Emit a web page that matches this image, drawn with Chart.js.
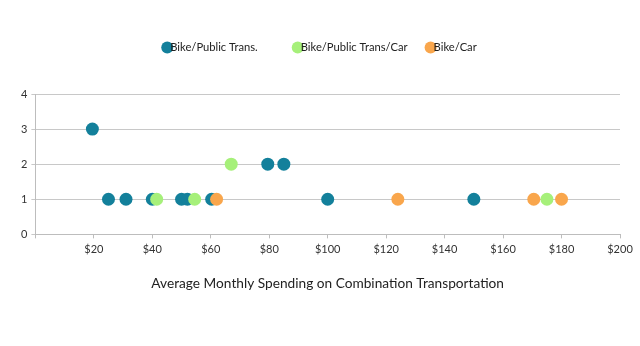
<!DOCTYPE html>
<html>
<head>
<meta charset="utf-8">
<script src="https://cdn.jsdelivr.net/npm/chart.js@4"></script>
<style>
  body { margin: 0; background: #fff; }
  #wrap { width: 640px; height: 346px; }
</style>
</head>
<body>
<div id="wrap"><canvas id="myChart"></canvas></div>
<script>
const seriesNames = ["Bike/Public Trans.", "Bike/Public Trans/Car", "Bike/Car"];
const seriesColors = ["#13809b", "#a6f07a", "#f9a64c"];

// spending ($), count
const bikePublicX = [19.5, 25, 31, 40, 50, 52, 60.3, 79.5, 85, 100, 150];
const bikePublicY = [3, 1, 1, 1, 1, 1, 1, 2, 2, 1, 1];
const bikePublicCarX = [41.5, 54.5, 67, 175];
const bikePublicCarY = [1, 1, 2, 1];
const bikeCarX = [62, 124, 170.5, 180];
const bikeCarY = [1, 1, 1, 1];

const xTicks = [0, 20, 40, 60, 80, 100, 120, 140, 160, 180, 200];
const yTicks = [0, 1, 2, 3, 4];
const xTitle = "Average Monthly Spending on Combination Transportation";

function toPoints(xs, ys) {
  let pts = [];
  for (let i = 0; i < xs.length; i++) {
    pts.push({ x: xs[i], y: ys[i] });
  }
  return pts;
}

function makeDataset(i, xs, ys, order) {
  return {
    label: seriesNames[i],
    data: toPoints(xs, ys),
    backgroundColor: seriesColors[i],
    borderColor: seriesColors[i],
    borderWidth: 0,
    pointBorderWidth: 0,
    pointRadius: 6.5,
    pointHoverRadius: 6.5,
    order: order,
  };
}

// legend drawn by hand: dot sits under the start of the label
const topLegend = {
  id: "topLegend",
  afterDraw(chart) {
    const c = chart.ctx;
    const gaps = [40, 23, 0];
    const y = 47.5;
    c.save();
    c.font = "11.2px Lato";
    c.textBaseline = "middle";
    let widths = chart.data.datasets.map((ds) => c.measureText(ds.label).width);
    let total = 0;
    for (let i = 0; i < widths.length; i++) total += 3 + widths[i] + gaps[i];
    let x = 322 - total / 2;
    chart.data.datasets.forEach((ds, i) => {
      c.fillStyle = ds.backgroundColor;
      c.beginPath();
      c.arc(x, y, 6, 0, Math.PI * 2);
      c.fill();
      c.fillStyle = "#222";
      c.fillText(ds.label, x + 3, y);
      x += 3 + widths[i] + gaps[i];
    });
    c.restore();
  },
};

Chart.defaults.font.family = "Lato";
Chart.defaults.color = "#333";

const ctx = document.getElementById("myChart");

new Chart(ctx, {
  type: "scatter",
  data: {
    datasets: [
      makeDataset(0, bikePublicX, bikePublicY, 3),
      makeDataset(1, bikePublicCarX, bikePublicCarY, 2),
      makeDataset(2, bikeCarX, bikeCarY, 1),
    ],
  },
  options: {
    responsive: true,
    maintainAspectRatio: false,
    animation: false,
    layout: {
      padding: { top: 94, left: 17, right: 20, bottom: 50 },
    },
    scales: {
      x: {
        type: "linear",
        min: 0,
        max: 200,
        afterBuildTicks: (axis) => {
          axis.ticks = xTicks.map((v) => ({ value: v }));
        },
        ticks: {
          font: { size: 11 },
          color: "#333",
          padding: 4,
          maxRotation: 0,
          callback: (v) => (v === 0 ? "" : "$" + v),
        },
        grid: {
          drawOnChartArea: false,
          tickLength: 4,
          color: "#bdbdbd",
        },
        border: { color: "#bdbdbd" },
        title: {
          display: true,
          text: xTitle,
          font: { size: 13.7 },
          color: "#222",
          padding: { top: 16 },
        },
      },
      y: {
        min: 0,
        max: 4,
        afterBuildTicks: (axis) => {
          axis.ticks = yTicks.map((v) => ({ value: v }));
        },
        ticks: {
          font: { size: 11 },
          color: "#333",
          padding: 4,
        },
        grid: {
          color: "#c8c8c8",
          tickLength: 4,
        },
        border: { color: "#bdbdbd" },
      },
    },
    plugins: {
      legend: { display: false },
      tooltip: { enabled: false },
    },
  },
  plugins: [topLegend],
});
</script>
</body>
</html>
